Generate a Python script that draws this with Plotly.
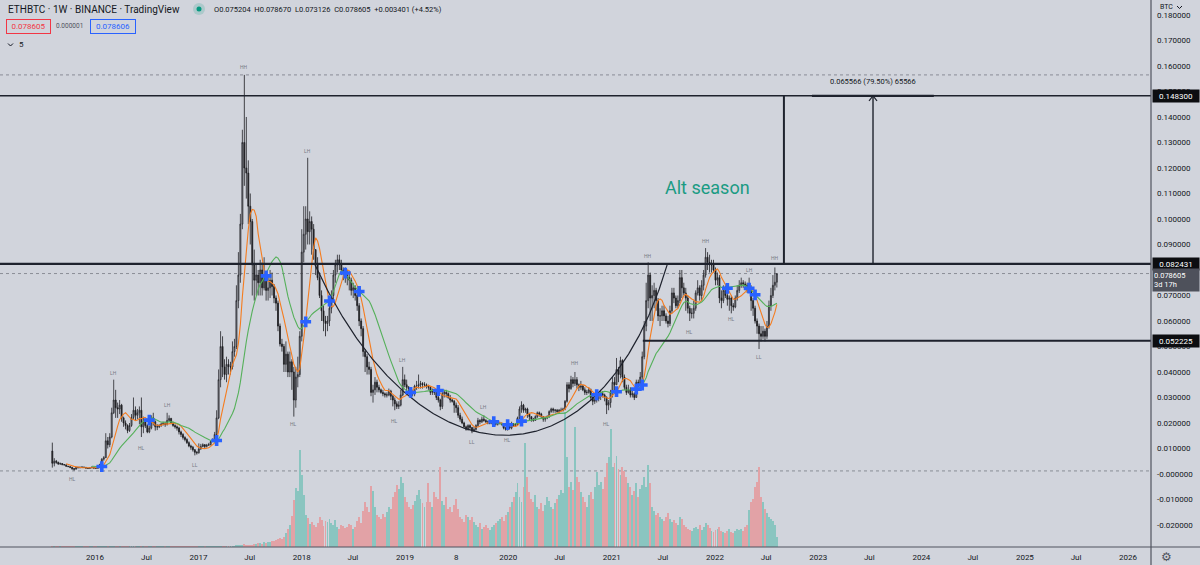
import numpy as np
import pandas as pd
import plotly.graph_objects as go

# ---------------- data ----------------
START_WEEK = "2015-08-03"
FIRST_OPEN = 0.0090

close = [
    # 2015
    0.0042, 0.0050, 0.0046, 0.0039, 0.0041, 0.0037, 0.0036, 0.0030, 0.0029, 0.0026, 0.0021,
    0.0019, 0.0025, 0.0025, 0.0026, 0.0027, 0.0026, 0.0023, 0.0022, 0.0024, 0.0026, 0.0023,
    # 2016
    0.0022, 0.0030, 0.0037, 0.0058, 0.0064, 0.0130, 0.0115, 0.0145, 0.0240, 0.0290, 0.0260,
    0.0255, 0.0270, 0.0220, 0.0200, 0.0190, 0.0170, 0.0190, 0.0222, 0.0250, 0.0230, 0.0240,
    0.0250, 0.0185, 0.0205, 0.0190, 0.0165, 0.0180, 0.0220, 0.0205, 0.0185, 0.0185, 0.0190,
    0.0196, 0.0198, 0.0195, 0.0210, 0.0218, 0.0200, 0.0190, 0.0185, 0.0180, 0.0165, 0.0155,
    0.0143, 0.0135, 0.0123, 0.0110, 0.0105, 0.0095, 0.0085, 0.0083,
    # 2017
    0.0098, 0.0108, 0.0115, 0.0108, 0.0113, 0.0115, 0.0127, 0.0131, 0.0155, 0.0220, 0.0370,
    0.0500, 0.0420, 0.0390, 0.0430, 0.0420, 0.0420, 0.0480, 0.0500, 0.0680, 0.0780, 0.0980,
    0.1300, 0.1200, 0.1180, 0.1050, 0.0990, 0.0820, 0.0760, 0.0780, 0.0750, 0.0800, 0.0730,
    0.0770, 0.0720, 0.0730, 0.0760, 0.0735, 0.0690, 0.0670, 0.0580, 0.0510, 0.0500, 0.0430,
    0.0470, 0.0400, 0.0440, 0.0400, 0.0290, 0.0380, 0.0390, 0.0540,
    # 2018
    0.0870, 0.0940, 0.1000, 0.0950, 0.0990, 0.0960, 0.0880, 0.0820, 0.0770, 0.0700, 0.0640,
    0.0600, 0.0590, 0.0600, 0.0650, 0.0700, 0.0780, 0.0820, 0.0840, 0.0820, 0.0800, 0.0790,
    0.0780, 0.0770, 0.0760, 0.0720, 0.0730, 0.0700, 0.0660, 0.0600, 0.0570, 0.0480, 0.0460,
    0.0420, 0.0410, 0.0320, 0.0330, 0.0360, 0.0340, 0.0330, 0.0320, 0.0315, 0.0310, 0.0310,
    0.0325, 0.0305, 0.0290, 0.0275, 0.0265, 0.0270, 0.0310, 0.0370,
    # 2019
    0.0350, 0.0340, 0.0335, 0.0325, 0.0315, 0.0345, 0.0345, 0.0350, 0.0355, 0.0350, 0.0350,
    0.0345, 0.0340, 0.0320, 0.0325, 0.0320, 0.0300, 0.0290, 0.0265, 0.0315, 0.0320, 0.0315,
    0.0300, 0.0290, 0.0285, 0.0270, 0.0260, 0.0230, 0.0215, 0.0200, 0.0185, 0.0175, 0.0190,
    0.0182, 0.0168, 0.0175, 0.0190, 0.0210, 0.0205, 0.0215, 0.0210, 0.0205, 0.0200, 0.0200,
    0.0205, 0.0205, 0.0195, 0.0200, 0.0200, 0.0195, 0.0180, 0.0175,
    # 2020
    0.0185, 0.0180, 0.0195, 0.0190, 0.0195, 0.0220, 0.0255, 0.0270, 0.0250, 0.0255, 0.0235,
    0.0225, 0.0215, 0.0210, 0.0225, 0.0240, 0.0235, 0.0225, 0.0215, 0.0220, 0.0225, 0.0245,
    0.0255, 0.0250, 0.0250, 0.0245, 0.0250, 0.0250, 0.0255, 0.0285, 0.0350, 0.0335, 0.0370,
    0.0355, 0.0370, 0.0350, 0.0340, 0.0345, 0.0330, 0.0320, 0.0320, 0.0330, 0.0300, 0.0285,
    0.0290, 0.0295, 0.0310, 0.0315, 0.0310, 0.0300, 0.0270, 0.0280,
    # 2021
    0.0320, 0.0360, 0.0350, 0.0410, 0.0390, 0.0445, 0.0380, 0.0340, 0.0320, 0.0330, 0.0310,
    0.0315, 0.0300, 0.0360, 0.0355, 0.0380, 0.0460, 0.0580, 0.0680, 0.0780, 0.0690, 0.0700,
    0.0720, 0.0680, 0.0620, 0.0620, 0.0640, 0.0620, 0.0600, 0.0590, 0.0640, 0.0710, 0.0690,
    0.0660, 0.0680, 0.0770, 0.0730, 0.0710, 0.0690, 0.0650, 0.0630, 0.0630, 0.0650, 0.0710,
    0.0730, 0.0700, 0.0740, 0.0780, 0.0850, 0.0830, 0.0820, 0.0820, 0.0800,
    # 2022
    0.0760, 0.0770, 0.0690, 0.0680, 0.0720, 0.0700, 0.0685, 0.0690, 0.0660, 0.0655, 0.0690,
    0.0720, 0.0740, 0.0750, 0.0745, 0.0740, 0.0720, 0.0730, 0.0680, 0.0650, 0.0600, 0.0580,
    0.0550, 0.0540, 0.0560, 0.0540, 0.0580, 0.0660, 0.0700, 0.0740, 0.075204, 0.078605,
]

high = [
    # 2015
    0.0123, 0.0062, 0.0055, 0.0048, 0.0045, 0.0043, 0.0039, 0.0037, 0.0032, 0.0030, 0.0027,
    0.0023, 0.0028, 0.0029, 0.0029, 0.0030, 0.0028, 0.0027, 0.0024, 0.0025, 0.0030, 0.0027,
    # 2016
    0.0024, 0.0033, 0.0040, 0.0062, 0.0070, 0.0160, 0.0145, 0.0160, 0.0260, 0.0370, 0.0330,
    0.0280, 0.0290, 0.0275, 0.0225, 0.0210, 0.0195, 0.0200, 0.0235, 0.0300, 0.0265, 0.0255,
    0.0265, 0.0300, 0.0225, 0.0210, 0.0195, 0.0190, 0.0230, 0.0240, 0.0210, 0.0195, 0.0195,
    0.0200, 0.0205, 0.0205, 0.0240, 0.0230, 0.0220, 0.0205, 0.0195, 0.0190, 0.0185, 0.0170,
    0.0160, 0.0148, 0.0140, 0.0128, 0.0115, 0.0110, 0.0098, 0.0090,
    # 2017
    0.0120, 0.0118, 0.0120, 0.0117, 0.0118, 0.0122, 0.0130, 0.0140, 0.0165, 0.0250, 0.0410,
    0.0560, 0.0540, 0.0450, 0.0460, 0.0450, 0.0440, 0.0520, 0.0530, 0.0740, 0.0870, 0.1020,
    0.1350, 0.1565, 0.1400, 0.1230, 0.1100, 0.1000, 0.0880, 0.0820, 0.0800, 0.0840, 0.0830,
    0.0850, 0.0790, 0.0780, 0.0800, 0.0790, 0.0745, 0.0700, 0.0680, 0.0590, 0.0530, 0.0510,
    0.0520, 0.0480, 0.0480, 0.0450, 0.0420, 0.0420, 0.0460, 0.0560,
    # 2018
    0.0960, 0.1050, 0.1050, 0.1240, 0.1030, 0.1010, 0.0980, 0.0880, 0.0850, 0.0790, 0.0720,
    0.0660, 0.0620, 0.0620, 0.0670, 0.0720, 0.0800, 0.0840, 0.0860, 0.0860, 0.0840, 0.0810,
    0.0810, 0.0800, 0.0790, 0.0770, 0.0750, 0.0740, 0.0710, 0.0670, 0.0610, 0.0580, 0.0490,
    0.0470, 0.0440, 0.0420, 0.0350, 0.0380, 0.0370, 0.0350, 0.0335, 0.0330, 0.0320, 0.0320,
    0.0335, 0.0330, 0.0310, 0.0300, 0.0285, 0.0285, 0.0330, 0.0420,
    # 2019
    0.0390, 0.0370, 0.0345, 0.0340, 0.0330, 0.0350, 0.0365, 0.0390, 0.0365, 0.0360, 0.0360,
    0.0355, 0.0350, 0.0345, 0.0335, 0.0330, 0.0325, 0.0310, 0.0295, 0.0330, 0.0330, 0.0330,
    0.0320, 0.0310, 0.0295, 0.0290, 0.0280, 0.0270, 0.0240, 0.0225, 0.0205, 0.0190, 0.0195,
    0.0195, 0.0185, 0.0185, 0.0195, 0.0220, 0.0215, 0.0225, 0.0230, 0.0215, 0.0210, 0.0205,
    0.0210, 0.0215, 0.0210, 0.0205, 0.0205, 0.0200, 0.0195, 0.0185,
    # 2020
    0.0190, 0.0190, 0.0205, 0.0200, 0.0200, 0.0225, 0.0265, 0.0285, 0.0275, 0.0260, 0.0260,
    0.0240, 0.0225, 0.0220, 0.0230, 0.0245, 0.0245, 0.0240, 0.0225, 0.0225, 0.0230, 0.0250,
    0.0260, 0.0260, 0.0255, 0.0255, 0.0255, 0.0260, 0.0260, 0.0290, 0.0360, 0.0360, 0.0385,
    0.0380, 0.0400, 0.0380, 0.0355, 0.0365, 0.0350, 0.0340, 0.0330, 0.0340, 0.0335, 0.0305,
    0.0300, 0.0305, 0.0320, 0.0330, 0.0325, 0.0315, 0.0305, 0.0290,
    # 2021
    0.0330, 0.0380, 0.0380, 0.0455, 0.0420, 0.0460, 0.0450, 0.0390, 0.0350, 0.0350, 0.0340,
    0.0330, 0.0320, 0.0370, 0.0370, 0.0400, 0.0480, 0.0600, 0.0750, 0.0830, 0.0790, 0.0740,
    0.0750, 0.0730, 0.0690, 0.0650, 0.0660, 0.0660, 0.0630, 0.0620, 0.0660, 0.0730, 0.0730,
    0.0700, 0.0700, 0.0800, 0.0800, 0.0750, 0.0730, 0.0700, 0.0660, 0.0650, 0.0680, 0.0720,
    0.0760, 0.0740, 0.0760, 0.0800, 0.0886, 0.0870, 0.0860, 0.0840, 0.0840,
    # 2022
    0.0810, 0.0790, 0.0780, 0.0720, 0.0740, 0.0740, 0.0710, 0.0700, 0.0700, 0.0670, 0.0700,
    0.0740, 0.0760, 0.0770, 0.0760, 0.0755, 0.0750, 0.0770, 0.0740, 0.0690, 0.0660, 0.0610,
    0.0590, 0.0580, 0.0580, 0.0570, 0.0600, 0.0680, 0.0730, 0.0780, 0.0810, 0.078670,
]

low = [
    # 2015
    0.0025, 0.0030, 0.0040, 0.0036, 0.0036, 0.0034, 0.0033, 0.0029, 0.0027, 0.0023, 0.0016,
    0.0013, 0.0018, 0.0022, 0.0022, 0.0024, 0.0024, 0.0022, 0.0020, 0.0021, 0.0023, 0.0022,
    # 2016
    0.0020, 0.0021, 0.0028, 0.0036, 0.0052, 0.0063, 0.0100, 0.0105, 0.0140, 0.0235, 0.0220,
    0.0220, 0.0235, 0.0205, 0.0185, 0.0175, 0.0160, 0.0165, 0.0185, 0.0215, 0.0210, 0.0215,
    0.0195, 0.0145, 0.0160, 0.0180, 0.0160, 0.0160, 0.0175, 0.0190, 0.0170, 0.0172, 0.0180,
    0.0185, 0.0190, 0.0185, 0.0190, 0.0205, 0.0195, 0.0185, 0.0178, 0.0170, 0.0155, 0.0145,
    0.0135, 0.0128, 0.0118, 0.0105, 0.0095, 0.0088, 0.0073, 0.0076,
    # 2017
    0.0080, 0.0095, 0.0105, 0.0102, 0.0104, 0.0110, 0.0112, 0.0125, 0.0125, 0.0150, 0.0215,
    0.0340, 0.0380, 0.0370, 0.0360, 0.0390, 0.0390, 0.0410, 0.0460, 0.0490, 0.0650, 0.0750,
    0.0960, 0.1130, 0.1080, 0.0980, 0.0900, 0.0700, 0.0680, 0.0700, 0.0700, 0.0700, 0.0700,
    0.0720, 0.0680, 0.0680, 0.0690, 0.0700, 0.0670, 0.0640, 0.0560, 0.0500, 0.0480, 0.0400,
    0.0400, 0.0380, 0.0380, 0.0330, 0.0225, 0.0260, 0.0340, 0.0380,
    # 2018
    0.0520, 0.0830, 0.0880, 0.0900, 0.0900, 0.0860, 0.0840, 0.0780, 0.0760, 0.0690, 0.0600,
    0.0560, 0.0540, 0.0560, 0.0580, 0.0630, 0.0680, 0.0750, 0.0790, 0.0800, 0.0780, 0.0760,
    0.0750, 0.0740, 0.0720, 0.0700, 0.0690, 0.0680, 0.0640, 0.0580, 0.0540, 0.0460, 0.0400,
    0.0390, 0.0390, 0.0305, 0.0280, 0.0310, 0.0320, 0.0320, 0.0315, 0.0305, 0.0300, 0.0300,
    0.0305, 0.0290, 0.0265, 0.0250, 0.0255, 0.0255, 0.0265, 0.0305,
    # 2019
    0.0340, 0.0310, 0.0320, 0.0315, 0.0305, 0.0305, 0.0330, 0.0335, 0.0335, 0.0335, 0.0340,
    0.0335, 0.0330, 0.0310, 0.0310, 0.0310, 0.0290, 0.0280, 0.0250, 0.0255, 0.0300, 0.0300,
    0.0295, 0.0280, 0.0280, 0.0240, 0.0240, 0.0220, 0.0205, 0.0195, 0.0180, 0.0170, 0.0170,
    0.0175, 0.0160, 0.0165, 0.0170, 0.0185, 0.0195, 0.0200, 0.0205, 0.0200, 0.0195, 0.0195,
    0.0195, 0.0200, 0.0190, 0.0190, 0.0195, 0.0190, 0.0175, 0.0170,
    # 2020
    0.0170, 0.0175, 0.0175, 0.0185, 0.0185, 0.0190, 0.0215, 0.0240, 0.0240, 0.0240, 0.0220,
    0.0210, 0.0205, 0.0205, 0.0210, 0.0220, 0.0225, 0.0220, 0.0205, 0.0205, 0.0215, 0.0220,
    0.0240, 0.0240, 0.0240, 0.0240, 0.0240, 0.0245, 0.0245, 0.0250, 0.0280, 0.0320, 0.0330,
    0.0340, 0.0345, 0.0335, 0.0325, 0.0330, 0.0325, 0.0310, 0.0310, 0.0315, 0.0290, 0.0270,
    0.0275, 0.0280, 0.0285, 0.0290, 0.0300, 0.0285, 0.0235, 0.0250,
    # 2021
    0.0260, 0.0300, 0.0320, 0.0350, 0.0360, 0.0375, 0.0360, 0.0330, 0.0310, 0.0315, 0.0300,
    0.0300, 0.0290, 0.0300, 0.0340, 0.0340, 0.0370, 0.0450, 0.0560, 0.0650, 0.0600, 0.0600,
    0.0650, 0.0640, 0.0600, 0.0580, 0.0600, 0.0600, 0.0590, 0.0575, 0.0580, 0.0630, 0.0670,
    0.0650, 0.0650, 0.0670, 0.0690, 0.0700, 0.0640, 0.0630, 0.0600, 0.0610, 0.0610, 0.0640,
    0.0700, 0.0680, 0.0680, 0.0720, 0.0770, 0.0800, 0.0790, 0.0790, 0.0790,
    # 2022
    0.0740, 0.0740, 0.0670, 0.0650, 0.0670, 0.0690, 0.0660, 0.0640, 0.0630, 0.0640, 0.0650,
    0.0680, 0.0710, 0.0730, 0.0730, 0.0720, 0.0710, 0.0710, 0.0640, 0.0620, 0.0590, 0.0550,
    0.0490, 0.0520, 0.0530, 0.0520, 0.0530, 0.0570, 0.0640, 0.0690, 0.0720, 0.073126,
]

volume = [
    # 2015
    1, 1, 1, 1, 1, 1, 1, 1, 1, 1, 1, 1, 1, 1, 1, 1, 1, 1, 1, 1, 1, 1,
    # 2016
    1, 1, 1, 1, 1, 1, 1, 1, 1, 1, 1, 1, 1, 1, 1, 1, 1, 1, 1, 1, 1, 1, 1, 1, 1, 1,
    1, 1, 1, 1, 1, 1, 1, 1, 1, 1, 1, 1, 1, 1, 1, 1, 1, 1, 1, 1, 1, 1, 1, 1, 1, 1,
    # 2017
    1, 1, 1, 1, 1, 1, 1, 1, 1, 1, 1, 1, 1, 1, 1, 1, 1, 1, 1, 2, 2, 2, 2, 3, 2, 2,
    2, 2, 3, 3, 4, 4, 3, 5, 4, 5, 5, 6, 6, 7, 8, 9, 8, 10, 14, 18, 22, 31, 47, 59, 56, 97,
    # 2018
    72, 52, 32, 29, 23,
    25, 22, 20, 24, 30, 27, 21, 26, 25, 28,
    24, 22, 27, 20, 18, 22, 21, 19, 20, 23,
    22, 18, 20, 26, 30, 24,
    36, 45, 40, 35, 61, 56, 40,
    32, 30, 28, 33, 30, 35, 40, 38, 50,
    55, 62, 58, 70, 64,
    # 2019
    50, 45, 40, 38, 42, 46, 52, 57, 48, 44, 40, 45, 64,
    45, 40, 55, 50, 48, 80, 46, 42, 50, 38, 40, 35, 42, 48, 38, 30, 28, 25, 32, 30, 27, 30,
    25, 22, 20, 24, 18, 20, 22, 19, 17, 20, 22,
    24, 26, 28, 30, 26, 32,
    # 2020
    35, 40, 45, 50, 55, 64, 50, 45, 60, 104, 70, 55,
    48, 45, 52, 40, 38, 44, 36, 42, 50, 46, 40, 38, 44, 48, 52, 57, 54,
    135, 90, 60, 65, 57, 120, 70, 65, 55,
    50, 45, 40, 52, 55, 48, 60, 75, 62, 65, 58, 70, 84, 90,
    # 2021
    118, 80, 84, 91, 78, 72, 80, 76, 70, 64,
    60, 52, 56, 64, 50, 58, 62, 70, 60, 82, 64,
    40, 36, 32, 34, 30, 28, 26, 30, 34, 28, 25, 27, 24, 22, 30, 28,
    22, 20, 18, 17, 16, 19, 20, 18, 22, 17, 20, 24, 22, 19, 16, 15,
    # 2022
    17, 18, 20, 16, 15, 14, 16, 18, 15, 14, 16, 18, 17,
    18, 16, 20, 22, 37, 45, 48, 60, 65, 80,
    50, 45, 38, 34, 30, 28, 26, 22, 10,
]

x_tick_dates = ["2016-01-01", "2016-07-01", "2017-01-01", "2017-07-01", "2018-01-01", "2018-07-01",
                "2019-01-01", "2019-07-01", "2020-01-01", "2020-07-01", "2021-01-01", "2021-07-01",
                "2022-01-01", "2022-07-01", "2023-01-01", "2023-07-01", "2024-01-01", "2024-07-01",
                "2025-01-01", "2025-07-01", "2026-01-01"]
x_tick_labels = ["2016", "Jul", "2017", "Jul", "2018", "Jul", "2019", "8", "2020", "Jul", "2021", "Jul",
                 "2022", "Jul", "2023", "Jul", "2024", "Jul", "2025", "Jul", "2026"]

y_tick_values = [-0.02, -0.01, 0.0, 0.01, 0.02, 0.03, 0.04, 0.05, 0.06, 0.07, 0.08, 0.09, 0.10,
                 0.11, 0.12, 0.13, 0.14, 0.15, 0.16, 0.17, 0.18]
y_tick_labels = ["-0.020000", "-0.010000", "-0.000000", "0.010000", "0.020000", "0.030000",
                 "0.040000", "0.050000", "0.060000", "0.070000", "0.080000", "0.090000",
                 "0.100000", "0.110000", "0.120000", "0.130000", "0.140000", "0.150000",
                 "0.160000", "0.170000", "0.180000"]

pivot_dates = ["2015-10-12", "2016-03-07", "2016-06-13", "2016-09-12", "2016-12-19", "2017-06-12",
               "2017-12-04", "2018-01-22", "2018-11-26", "2018-12-24", "2019-08-26", "2019-10-07",
               "2019-12-30", "2020-08-24", "2020-12-14", "2021-05-10", "2021-10-04", "2021-11-29",
               "2022-02-28", "2022-05-02", "2022-06-06", "2022-08-01"]
pivot_values = [-0.0020, 0.0396, 0.0102, 0.0271, 0.0035, 0.1596, 0.0196, 0.1267, 0.0208, 0.0447,
                0.0125, 0.0263, 0.0133, 0.0435, 0.0196, 0.0855, 0.0557, 0.0914, 0.0608, 0.0800,
                0.0459, 0.0847]
pivot_texts = ["HL", "LH", "HL", "LH", "LL", "HH", "HL", "LH", "HL", "LH", "LL", "LH", "HL", "HH",
               "HL", "HH", "HL", "HH", "HL", "LH", "LL", "HH"]

level_top = 0.1483
level_mid = 0.082431
level_low = 0.052225
level_low_start = "2021-04-21"
ath_line = 0.1565
atl_line = 0.0012
last_price = 0.078605
vline_date = "2022-09-02"
measure_date = "2023-07-14"
measure_from = "2022-12-10"
measure_to = "2024-02-14"
measure_text = "0.065566 (79.50%) 65566"
measure_text_value = 0.1541
alt_date = "2021-12-04"
alt_value = 0.1122

cup_dates = ["2018-02-17", "2019-02-23", "2020-11-21", "2021-07-16"]
cup_values = [0.0820, -0.0071, -0.0071, 0.0820]

FAST_LEN = 8
SLOW_LEN = 21

# ---------------- derived ----------------
n = len(close)
dates = pd.date_range(START_WEEK, periods=n, freq="7D")
opens = [FIRST_OPEN] + close[:-1]
hi = [max(h, o, c) for h, o, c in zip(high, opens, close)]
lo = [min(l, o, c) for l, o, c in zip(low, opens, close)]
s = pd.Series(close)
ma_fast = s.rolling(FAST_LEN).mean()
ma_slow = s.rolling(SLOW_LEN).mean()
diff = (ma_fast - ma_slow).values
cross_idx = [k for k in range(1, n)
             if not np.isnan(diff[k - 1]) and not np.isnan(diff[k]) and np.sign(diff[k]) != np.sign(diff[k - 1])]
cross_x = [dates[k] for k in cross_idx]
cross_y = [(ma_fast[k] + ma_slow[k]) / 2 for k in cross_idx]

vol_colors = ["#8ac5c0" if c >= o else "#e2a2a6" for o, c in zip(opens, close)]

cx = pd.to_datetime(cup_dates).astype("int64").values / 1e6
cy = np.array(cup_values)
t = np.linspace(0, 1, 300)
bx = (1 - t) ** 3 * cx[0] + 3 * (1 - t) ** 2 * t * cx[1] + 3 * (1 - t) * t ** 2 * cx[2] + t ** 3 * cx[3]
by = (1 - t) ** 3 * cy[0] + 3 * (1 - t) ** 2 * t * cy[1] + 3 * (1 - t) * t ** 2 * cy[2] + t ** 3 * cy[3]
curve_x = pd.to_datetime(bx, unit="ms")

# ---------------- style / layout ----------------
BG = "#d1d4dc"
TXT = "#131722"
W_PLOT, H_PLOT = 1151, 547
X_START, X_END = "2015-01-30", "2026-03-23"
Y_MIN, Y_MAX = -0.02863, 0.18588
FONT = "Roboto"


def px(x):
    return x / W_PLOT


def py(y):
    return 1 - y / H_PLOT


fig = go.Figure()
fig.add_trace(go.Bar(x=dates, y=volume, marker=dict(color=vol_colors, line=dict(width=0)),
                     width=3.3 * 86400000, yaxis="y", hoverinfo="skip"))
fig.add_trace(go.Candlestick(x=dates, open=opens, high=hi, low=lo, close=close, yaxis="y2",
                             increasing=dict(fillcolor="#8d9099", line=dict(color="#26262b", width=0.8)),
                             decreasing=dict(fillcolor="#1c1c1f", line=dict(color="#1c1c1f", width=0.8)),
                             whiskerwidth=0))
fig.add_trace(go.Scatter(x=dates, y=ma_fast, mode="lines", yaxis="y2",
                         line=dict(color="#f57c1f", width=1.1)))
fig.add_trace(go.Scatter(x=dates, y=ma_slow, mode="lines", yaxis="y2",
                         line=dict(color="#55b05a", width=1.1)))
fig.add_trace(go.Scatter(x=curve_x, y=by, mode="lines", yaxis="y2",
                         line=dict(color="#1e222d", width=1.2)))
fig.add_trace(go.Scatter(x=cross_x, y=cross_y, mode="markers", yaxis="y2",
                         marker=dict(symbol="cross", size=9, color="#2962ff", line=dict(width=0))))

shapes = []
for v in (ath_line, last_price, atl_line):
    shapes.append(dict(type="line", xref="paper", yref="y2", x0=0, x1=1, y0=v, y1=v, layer="below",
                       line=dict(color="#8a8d96", width=1, dash="dot")))
shapes.append(dict(type="line", xref="paper", yref="y2", x0=0, x1=1, y0=level_top, y1=level_top,
                   line=dict(color="#1e222d", width=1.5)))
shapes.append(dict(type="line", xref="paper", yref="y2", x0=0, x1=1, y0=level_mid, y1=level_mid,
                   line=dict(color="#1e222d", width=2.2)))
shapes.append(dict(type="line", xref="x", yref="y2", x0=level_low_start, x1=X_END, y0=level_low, y1=level_low,
                   line=dict(color="#1e222d", width=2)))
shapes.append(dict(type="line", xref="x", yref="y2", x0=vline_date, x1=vline_date, y0=level_mid, y1=level_top,
                   line=dict(color="#1e222d", width=2)))
shapes.append(dict(type="line", xref="x", yref="y2", x0=measure_date, x1=measure_date, y0=level_mid,
                   y1=level_top, line=dict(color="#1e222d", width=1.4)))
shapes.append(dict(type="line", xref="x", yref="y2", x0=measure_from, x1=measure_to, y0=level_top,
                   y1=level_top, line=dict(color="#1e222d", width=2.2)))
for dx in (-4, 4):
    shapes.append(dict(type="line", xref="x", yref="y2", xsizemode="pixel", ysizemode="pixel",
                       xanchor=measure_date, yanchor=level_top, x0=dx, x1=0, y0=-5, y1=0,
                       line=dict(color="#1e222d", width=1.2)))
shapes.append(dict(type="line", xref="paper", yref="paper", x0=0, x1=px(1200), y0=0, y1=0,
                   line=dict(color="#50535e", width=1.2)))
shapes.append(dict(type="line", xref="paper", yref="paper", x0=1, x1=1, y0=py(565), y1=1,
                   line=dict(color="#50535e", width=1.2)))
shapes.append(dict(type="rect", xref="paper", yref="paper", x0=px(1152), x1=px(1200), y0=py(12), y1=1,
                   fillcolor=BG, line=dict(width=0)))
shapes.append(dict(type="path", xref="paper", yref="paper",
                   path=f"M {px(1177)} {py(6)} L {px(1179.5)} {py(8.5)} L {px(1182)} {py(6)}",
                   line=dict(color=TXT, width=1)))
shapes.append(dict(type="path", xref="paper", yref="paper",
                   path=f"M {px(8)} {py(43.5)} L {px(10.5)} {py(46)} L {px(13)} {py(43.5)}",
                   line=dict(color=TXT, width=1)))
shapes.append(dict(type="circle", xref="paper", yref="paper", x0=px(193), x1=px(205), y0=py(15), y1=py(3),
                   fillcolor="rgba(8,153,129,0.18)", line=dict(width=0)))
shapes.append(dict(type="circle", xref="paper", yref="paper", x0=px(196.5), x1=px(201.5), y0=py(11.5),
                   y1=py(6.5), fillcolor="#089981", line=dict(width=0)))

ann = []
for d, v, tx in zip(pivot_dates, pivot_values, pivot_texts):
    ann.append(dict(x=d, y=v, xref="x", yref="y2", text=tx, showarrow=False,
                    font=dict(size=5, color="#787b86", family=FONT)))
ann.append(dict(x=alt_date, y=alt_value, xref="x", yref="y2", text="Alt season", showarrow=False,
                font=dict(size=18, color="#1a9b83", family=FONT)))
ann.append(dict(x=measure_date, y=measure_text_value, xref="x", yref="y2", text=measure_text, showarrow=False,
                font=dict(size=7.5, color=TXT, family=FONT)))
ann.append(dict(x=px(6), y=py(9), xref="paper", yref="paper", xanchor="left", yanchor="middle",
                text="ETHBTC · 1W · BINANCE · TradingView", showarrow=False,
                font=dict(size=10, color=TXT, family=FONT)))
ann.append(dict(x=px(212), y=py(9), xref="paper", yref="paper", xanchor="left", yanchor="middle",
                text="O0.075204  H0.078670  L0.073126  C0.078605  +0.003401 (+4.52%)", showarrow=False,
                font=dict(size=7.5, color=TXT, family=FONT)))
ann.append(dict(x=px(28), y=py(26.5), xref="paper", yref="paper", xanchor="center", yanchor="middle",
                text="0.078605", showarrow=False, width=40, height=10, borderpad=1.5, borderwidth=1,
                bordercolor="#f23645", bgcolor=BG, font=dict(size=8, color="#f23645", family=FONT)))
ann.append(dict(x=px(69.5), y=py(26.5), xref="paper", yref="paper", xanchor="center", yanchor="middle",
                text="0.000001", showarrow=False, font=dict(size=6.5, color="#50535e", family=FONT)))
ann.append(dict(x=px(112.5), y=py(26.5), xref="paper", yref="paper", xanchor="center", yanchor="middle",
                text="0.078606", showarrow=False, width=41, height=10, borderpad=1.5, borderwidth=1,
                bordercolor="#2962ff", bgcolor=BG, font=dict(size=8, color="#2962ff", family=FONT)))
ann.append(dict(x=px(17), y=py(45), xref="paper", yref="paper", xanchor="left", yanchor="middle",
                text="5", showarrow=False, font=dict(size=8, color=TXT, family=FONT)))
ann.append(dict(x=px(1158), y=py(7), xref="paper", yref="paper", xanchor="left", yanchor="middle",
                text="BTC", showarrow=False, font=dict(size=7, color=TXT, family=FONT)))
ann.append(dict(x=px(1166), y=py(557), xref="paper", yref="paper", xanchor="center", yanchor="middle",
                text="⚙", showarrow=False, font=dict(size=12, color="#50535e", family="DejaVu Sans")))
for v, txt in ((level_top, "0.148300"), (level_mid, "0.082431"), (level_low, "0.052225")):
    ann.append(dict(x=px(1152), y=v, xref="paper", yref="y2", xanchor="left", yanchor="middle",
                    text=txt, showarrow=False, width=44, height=10, borderpad=1, bgcolor="#0c0d10",
                    font=dict(size=8, color="#ffffff", family=FONT)))
ann.append(dict(x=px(1152), y=last_price, xref="paper", yref="y2", xanchor="left", yanchor="top", yshift=6,
                text="0.078605<br>3d 17h", showarrow=False, width=44, height=20, borderpad=1, align="left",
                bgcolor="#4e515b", font=dict(size=7.5, color="#ffffff", family=FONT)))

fig.update_layout(
    width=1200, height=565,
    margin=dict(l=0, r=49, t=0, b=18),
    paper_bgcolor=BG, plot_bgcolor=BG,
    showlegend=False,
    font=dict(family=FONT, color=TXT),
    bargap=0,
    xaxis=dict(type="date", range=[X_START, X_END], tickvals=x_tick_dates, ticktext=x_tick_labels,
               showgrid=False, zeroline=False, showline=False, ticks="", ticklabelstandoff=4,
               tickfont=dict(size=8, color=TXT, family=FONT), rangeslider=dict(visible=False)),
    yaxis=dict(range=[0, H_PLOT], visible=False, fixedrange=True),
    yaxis2=dict(overlaying="y", side="right", range=[Y_MIN, Y_MAX], tickvals=y_tick_values,
                ticktext=y_tick_labels, showgrid=False, zeroline=False, showline=False, ticks="",
                ticklabelstandoff=5, tickfont=dict(size=8, color=TXT, family=FONT)),
    shapes=shapes,
    annotations=ann,
)

fig.write_html("out.html")
